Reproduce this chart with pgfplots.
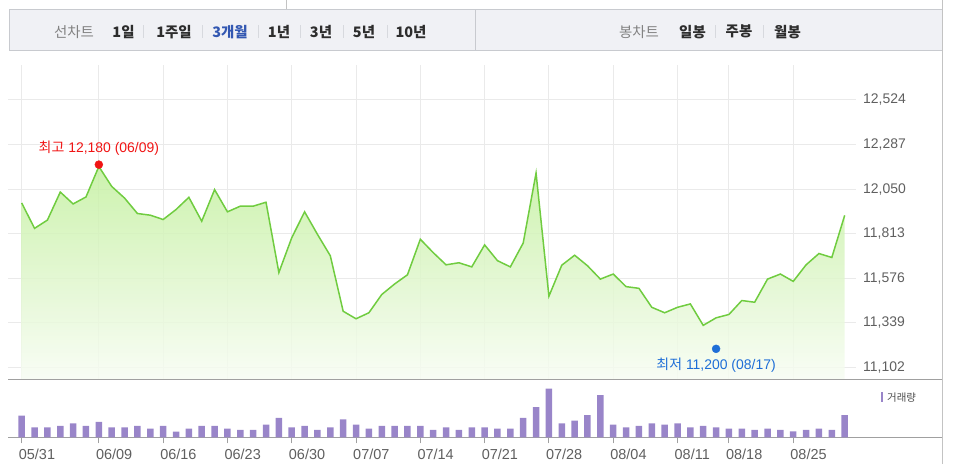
\documentclass[border=0pt]{standalone}
\usepackage{fontspec}
\setmainfont{Liberation Sans}
\newfontfamily\kr{Noto Sans CJK KR}
\usepackage{pgfplots}
\usepackage{pgfplotstable}
\pgfplotsset{compat=1.18}

\definecolor{linegreen}{RGB}{112,204,64}
\definecolor{fillgreen}{RGB}{196,240,160}
\definecolor{fillpale}{RGB}{247,252,243}
\definecolor{gridc}{RGB}{234,234,234}
\definecolor{volc}{RGB}{153,133,201}
\definecolor{tabbg}{RGB}{240,241,245}
\definecolor{tabline}{RGB}{200,202,207}
\definecolor{sepc}{RGB}{215,217,222}
\definecolor{hired}{RGB}{240,20,20}
\definecolor{loblue}{RGB}{30,110,215}
\definecolor{labc}{RGB}{95,95,95}
\definecolor{tabgray}{RGB}{130,130,130}
\definecolor{tabdark}{RGB}{45,45,45}
\definecolor{tabblue}{RGB}{51,88,178}
\definecolor{basec}{RGB}{160,160,160}
\definecolor{framec}{RGB}{195,195,195}

% closing prices, one per trading day (index 0 = 05/31)
\pgfplotstableread{
i close
0 11976
1 11841
2 11885
3 12034
4 11971
5 12008
6 12170
7 12064
8 12002
9 11920
10 11911
11 11888
12 11941
13 12006
14 11879
15 12047
16 11929
17 11959
18 11959
19 11980
20 11606
21 11791
22 11929
23 11809
24 11695
25 11400
26 11360
27 11392
28 11489
29 11545
30 11594
31 11783
32 11712
33 11647
34 11658
35 11636
36 11753
37 11669
38 11636
39 11763
40 12135
41 11480
42 11645
43 11698
44 11642
45 11571
46 11598
47 11531
48 11522
49 11421
50 11392
51 11421
52 11439
53 11325
54 11365
55 11383
56 11457
57 11448
58 11571
59 11598
60 11559
61 11647
62 11707
63 11686
64 11910
}\price

% volume (relative units)
\pgfplotstableread{
i vol
0 65
1 30
2 30
3 34
4 42
5 34
6 46
7 30
8 30
9 34
10 26
11 34
12 17
13 26
14 34
15 34
16 26
17 22
18 22
19 38
20 58
21 30
22 34
23 22
24 30
25 54
26 38
27 26
28 34
29 34
30 34
31 34
32 22
33 30
34 22
35 30
36 30
37 26
38 26
39 58
40 90
41 146
42 42
43 50
44 66
45 126
46 38
47 30
48 34
49 42
50 38
51 42
52 30
53 34
54 30
55 26
56 26
57 22
58 26
59 22
60 18
61 22
62 26
63 22
64 66
}\volume

\newcommand{\lab}{\fontsize{14}{16}\selectfont}
\newcommand{\tabb}{\kr\bfseries\fontsize{14.5}{16}\selectfont}

\begin{document}
\begin{tikzpicture}[x=1bp,y=1bp]
\path[use as bounding box] (0,0) rectangle (954,464);

% tab bar
\draw[framec] (286,464) -- (286,454.7);
\draw[tabline, fill=tabbg] (9.3,413.3) rectangle (942,454.7);
\draw[tabline] (475,413.3) -- (475,454.7);
\node[tabgray, font=\kr\fontsize{14.5}{16}\selectfont] at (74,432.3) {선차트};
\node[tabdark, font=\tabb] at (123.5,432.3) {1일};
\node[tabdark, font=\tabb] at (174,432.3) {1주일};
\node[tabblue, font=\tabb] at (230,432.3) {3개월};
\node[tabdark, font=\tabb] at (279,432.3) {1년};
\node[tabdark, font=\tabb] at (321,432.3) {3년};
\node[tabdark, font=\tabb] at (364,432.3) {5년};
\node[tabdark, font=\tabb] at (411,432.3) {10년};
\node[tabgray, font=\kr\fontsize{14.5}{16}\selectfont] at (639,432.3) {봉차트};
\node[tabdark, font=\tabb] at (692.5,432.3) {일봉};
\node[tabdark, font=\tabb] at (739,432.3) {주봉};
\node[tabdark, font=\tabb] at (787.5,432.3) {월봉};
\draw[sepc] (142.7,426) -- (142.7,439);
\draw[sepc] (201.7,426) -- (201.7,439);
\draw[sepc] (258,426) -- (258,439);
\draw[sepc] (300,426) -- (300,439);
\draw[sepc] (343,426) -- (343,439);
\draw[sepc] (387,426) -- (387,439);
\draw[sepc] (715,426) -- (715,439);
\draw[sepc] (763,426) -- (763,439);

% right frame line
\draw[framec] (942,0) -- (942,464);

% price chart
\begin{axis}[
  at={(8bp,84.5bp)}, anchor=south west,
  scale only axis, width=934bp, height=314.5bp,
  xmin=-1.065, xmax=71.57, ymin=11037, ymax=12710,
  axis line style={draw=none},
  xtick={0,6,11,16,21,26,31,36,41,46,51,55,60},
  xticklabels={},
  xmajorgrids, major grid style={gridc, line width=1bp},
  ytick={11102,11339,11576,11813,12050,12287,12524},
  yticklabels={{11,102},{11,339},{11,576},{11,813},{12,050},{12,287},{12,524}},
  scaled y ticks=false,
  yticklabel pos=right,
  yticklabel style={anchor=west, inner xsep=0pt, xshift=-79bp, font=\lab, text=labc},
  major tick length=0pt, tick style={draw=none},
]
\pgfplotsinvokeforeach{11102,11339,11576,11813,12050,12287,12524}{
  \draw[gridc, line width=1bp] (axis cs:-1.065,#1) -- (axis cs:64.88,#1);
}
\addplot[draw=none, top color=fillgreen, bottom color=fillpale, fill opacity=0.85]
  table[x=i, y=close]{\price} \closedcycle;
\addplot[linegreen, line width=1.5bp] table[x=i, y=close]{\price};
\addplot[only marks, mark=*, mark size=4bp, hired] coordinates {(6,12180)};
\addplot[only marks, mark=*, mark size=4bp, loblue] coordinates {(54,11200)};
\node[text=hired, font=\lab, yshift=16bp] at (axis cs:6,12180) {{\kr 최고} 12,180 (06/09)};
\node[text=loblue, font=\lab, yshift=-16.5bp] at (axis cs:54,11200) {{\kr 최저} 11,200 (08/17)};
\end{axis}

\draw[basec, line width=1.3bp] (8,84.5) -- (942,84.5);

% volume chart
\begin{axis}[
  at={(8bp,26.7bp)}, anchor=south west,
  scale only axis, width=934bp, height=57.8bp,
  xmin=-1.065, xmax=71.57, ymin=0, ymax=173,
  axis x line=bottom, axis y line=none,
  axis line style={-, draw=basec, line width=1.3bp},
  xtick={0,6,11,16,21,26,31,36,41,46,51,55,60},
  xticklabels={05/31,06/09,06/16,06/23,06/30,07/07,07/14,07/21,07/28,08/04,08/11,08/18,08/25},
  xtick align=outside, major tick length=6bp,
  tick style={basec, line width=1bp},
  xticklabel style={anchor=north west, inner sep=0pt, xshift=-3bp, yshift=-5.5bp, font=\fontsize{14.5}{16}\selectfont, text=labc},
  ytick=\empty,
  ybar, bar width=6.5bp,
]
\addplot[fill=volc, draw=none] table[x=i, y=vol]{\volume};
\end{axis}

% legend
\fill[volc] (880.7,62) rectangle (883.4,72);
\node[anchor=west, inner sep=0pt, text=labc!80!black, font=\kr\fontsize{10.5}{12}\selectfont] at (887,66.8) {거래량};
\end{tikzpicture}
\end{document}
